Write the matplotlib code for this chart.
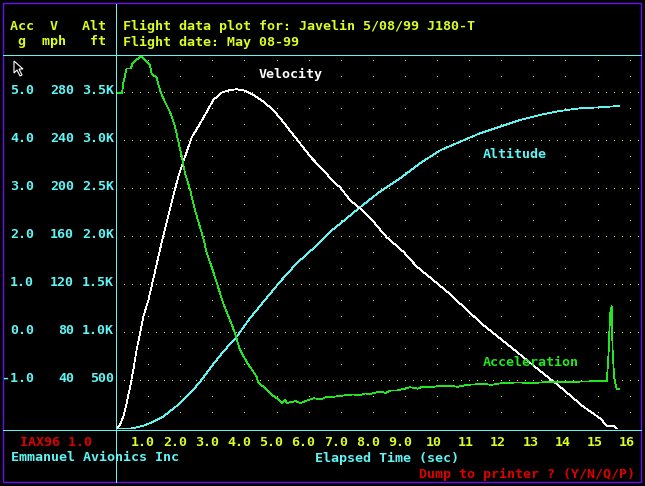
import matplotlib
matplotlib.use("Agg")
import numpy as np
import matplotlib.pyplot as plt
import matplotlib.transforms as mtransforms
from matplotlib.lines import Line2D
from matplotlib.patches import Rectangle, Polygon

# --- flight data ---
t_acc = [0, 0.19, 0.23, 0.33, 0.46, 0.52, 0.64, 0.77, 0.90, 1.06,
         1.11, 1.27, 1.37, 1.50, 1.68, 1.84, 1.94, 2.05, 2.15, 2.31,
         2.46, 2.72, 2.83, 2.98, 3.14, 3.34, 3.55, 3.71, 3.86, 4.07,
         4.38, 4.43, 4.59, 4.80, 5.01, 5.16, 5.26, 5.34, 5.42, 5.60,
         5.75, 5.94, 6.15, 6.40, 6.55, 6.77, 7.10, 7.39, 7.60, 7.75,
         7.91, 8.22, 8.40, 8.55, 8.74, 9.00, 9.16, 9.40, 9.55, 9.88,
         10.15, 10.40, 10.65, 10.93, 11.20, 11.44, 11.70, 11.96, 12.48, 13.00,
         13.52, 14.00, 14.60, 15.29, 15.34, 15.39, 15.44, 15.47, 15.52, 15.60,
         15.68]
acc_g = [4.99, 5.0, 5.22, 5.51, 5.51, 5.63, 5.69, 5.77, 5.70, 5.58,
         5.41, 5.31, 5.06, 4.85, 4.61, 4.30, 3.99, 3.67, 3.33, 2.98,
         2.56, 1.97, 1.66, 1.38, 1.04, 0.62, 0.27, -0.01, -0.35, -0.60,
         -0.91, -1.03, -1.12, -1.26, -1.36, -1.46, -1.40, -1.46, -1.44, -1.42,
         -1.46, -1.41, -1.36, -1.38, -1.33, -1.33, -1.30, -1.28, -1.30, -1.26,
         -1.27, -1.22, -1.25, -1.20, -1.20, -1.16, -1.13, -1.16, -1.12, -1.12,
         -1.10, -1.10, -1.12, -1.08, -1.07, -1.06, -1.08, -1.05, -1.03, -1.04,
         -1.02, -1.02, -1.01, -1.00, -0.49, 0.375, 0.56, -0.35, -0.94, -1.17,
         -1.17]

t_vel = [0, 0.12, 0.23, 0.33, 0.44, 0.54, 0.64, 0.75, 0.85, 1.01,
         1.44, 1.74, 1.94, 2.15, 2.36, 2.56, 2.83, 3.03, 3.29, 3.55,
         3.76, 4.02, 4.28, 4.59, 4.90, 5.16, 5.42, 5.73, 6.10, 6.46,
         6.72, 6.98, 7.29, 7.60, 8.02, 8.43, 8.95, 9.37, 9.88, 10.40,
         10.93, 11.44, 11.96, 12.48, 13.11, 13.83, 14.56, 15.08, 15.29, 15.49,
         15.60]
vel_mph = [0, 3.3, 10.3, 21.4, 35.3, 49.2, 65.8, 79.8, 93.6, 107.5,
           157.5, 189.4, 210.3, 226.9, 243.1, 251.9, 264.4, 274.2, 280.3, 282.5,
           283.1, 281.9, 278.3, 272.8, 265.8, 257.5, 248.6, 238.1, 225.6, 215.8,
           207.5, 201.4, 190.8, 183.9, 172.8, 159.8, 147.8, 135.3, 124.2, 112.5,
           99.2, 86.7, 75.6, 64.4, 50.6, 35.3, 18.6, 8.9, 2.8, 2.8,
           0]

t_alt = [0, 0.38, 0.59, 0.85, 1.16, 1.47, 1.89, 2.31, 2.62, 2.93,
         3.34, 3.76, 4.17, 4.64, 5.11, 5.63, 6.15, 6.67, 7.19, 7.60,
         8.22, 8.85, 9.47, 10.09, 10.72, 11.34, 11.96, 12.59, 13.21, 13.83,
         14.46, 15.08, 15.68]
alt_ft = [0, 0, 13, 34, 76, 128, 240, 372, 493, 632,
          805, 961, 1153, 1344, 1534, 1726, 1882, 2055, 2195, 2309,
          2472, 2611, 2768, 2901, 2993, 3080, 3149, 3219, 3271, 3313,
          3341, 3351, 3365]

acc_ticks = [5.0, 4.0, 3.0, 2.0, 1.0, 0.0, -1.0]
vel_ticks = [280, 240, 200, 160, 120, 80, 40]
alt_ticks = [3500, 3000, 2500, 2000, 1500, 1000, 500]
alt_tick_labels = ["3.5K", "3.0K", "2.5K", "2.0K", "1.5K", "1.0K", "500"]
time_ticks = list(range(1, 17))
time_tick_labels = ["1.0", "2.0", "3.0", "4.0", "5.0", "6.0", "7.0", "8.0", "9.0",
                    "10", "11", "12", "13", "14", "15", "16"]

YEL = "#d8ff20"
CYAN = "#5ff5f5"
GREEN = "#22e622"
WHITE = "#ffffff"
RED = "#dd0000"
PURPLE = "#6a10f0"

plt.rcParams["font.family"] = "DejaVu Sans Mono"
FS = 9.6

W, H = 645, 486
def fx(x):
    return x / W
def fy(y):
    return 1 - y / H

# screen layout (pixels)
X0, X1, Y0, YTOP = 116, 641, 429, 55
PX_SEC = 32.1
PX_DIV = 48.0

fig = plt.figure(figsize=(6.45, 4.86), dpi=100, facecolor="black")
ax = fig.add_axes([fx(X0), fy(Y0), fx(X1) - fx(X0), fy(YTOP) - fy(Y0)])
ax_v = ax.twinx()
ax_a = ax.twinx()
ndiv = (Y0 - YTOP) / PX_DIV
ax.set_xlim(0, (X1 - X0) / PX_SEC)
ax.set_ylim(0, ndiv * 500)
ax_v.set_ylim(0, ndiv * 40)
ax_a.set_ylim(-2, -2 + ndiv)
for a in (ax, ax_v, ax_a):
    a.set_facecolor("none")
    a.axis("off")

# dotted grid
col_y = np.arange(1, 24) * 500 / 3
gx, gy = np.meshgrid(time_ticks, col_y)
ax.plot(gx.ravel(), gy.ravel(), ",", color=YEL)
row_x = np.arange(1, 66) / 4
rx, ry = np.meshgrid(row_x, alt_ticks)
ax.plot(rx.ravel(), ry.ravel(), ",", color=YEL)

# curves
LW = 0.55
ax.plot(t_alt, alt_ft, color=CYAN, lw=LW, antialiased=False)
ax_v.plot(t_vel, vel_mph, color=WHITE, lw=LW, antialiased=False)
ax_a.plot(t_acc, acc_g, color=GREEN, lw=LW, antialiased=False)

# tick labels
up = mtransforms.ScaledTranslation(0, 0.03, fig.dpi_scale_trans)
tr_a = mtransforms.blended_transform_factory(fig.transFigure, ax_a.transData) + up
tr_v = mtransforms.blended_transform_factory(fig.transFigure, ax_v.transData) + up
tr_h = mtransforms.blended_transform_factory(fig.transFigure, ax.transData) + up
for v in acc_ticks:
    fig.text(fx(34), v, "%.1f" % v, transform=tr_a, color=CYAN, fontsize=FS,
             fontweight="bold", ha="right", va="center")
for v in vel_ticks:
    fig.text(fx(74), v, str(v), transform=tr_v, color=CYAN, fontsize=FS,
             fontweight="bold", ha="right", va="center")
for v, s in zip(alt_ticks, alt_tick_labels):
    fig.text(fx(114), v, s, transform=tr_h, color=CYAN, fontsize=FS,
             fontweight="bold", ha="right", va="center")

for v, s in zip(time_ticks, time_tick_labels):
    off = -0.05 if len(s) == 3 else -0.03
    tr_x = mtransforms.blended_transform_factory(ax.transData, fig.transFigure) + \
        mtransforms.ScaledTranslation(off, 0, fig.dpi_scale_trans)
    fig.text(v, fy(442), s, transform=tr_x, color=YEL, fontsize=FS,
             fontweight="bold", ha="center", va="center")

# header / footer text
def txt(x, y, s, c):
    fig.text(fx(x), fy(y), s, color=c, fontsize=FS, fontweight="bold",
             ha="left", va="center")

txt(10, 26, "Acc  V   Alt", YEL)
txt(10, 42, " g  mph   ft", YEL)
txt(123, 26, "Flight data plot for: Javelin 5/08/99 J180-T", YEL)
txt(123, 42, "Flight date: May 08-99", YEL)
txt(259, 74, "Velocity", WHITE)
txt(483, 154, "Altitude", CYAN)
txt(483, 362, "Acceleration", GREEN)
txt(20, 442, "IAX96 1.0", RED)
txt(11, 457, "Emmanuel Avionics Inc", CYAN)
txt(315, 458, "Elapsed Time (sec)", CYAN)
txt(419, 474, "Dump to printer ? (Y/N/Q/P)", RED)

# screen frame lines
for xs, ys in [([116, 116], [4, 482]), ([3, 641], [55, 55]), ([3, 641], [430, 430])]:
    fig.add_artist(Line2D([fx(x) for x in xs], [fy(y) for y in ys],
                          transform=fig.transFigure, color=CYAN, lw=LW,
                          antialiased=False))
fig.add_artist(Rectangle((fx(3), fy(482)), fx(641) - fx(3), fy(3) - fy(482),
                         transform=fig.transFigure, fill=False, ec=PURPLE, lw=1.0))

# mouse pointer
cursor = [(14, 61), (14, 73), (17, 70), (20, 76), (22, 75), (19, 69), (23, 69)]
fig.add_artist(Polygon([(fx(x), fy(y)) for x, y in cursor], closed=True,
                       transform=fig.transFigure, fc="black", ec=WHITE, lw=0.8))

fig.savefig("out.png", dpi=100, facecolor="black")
